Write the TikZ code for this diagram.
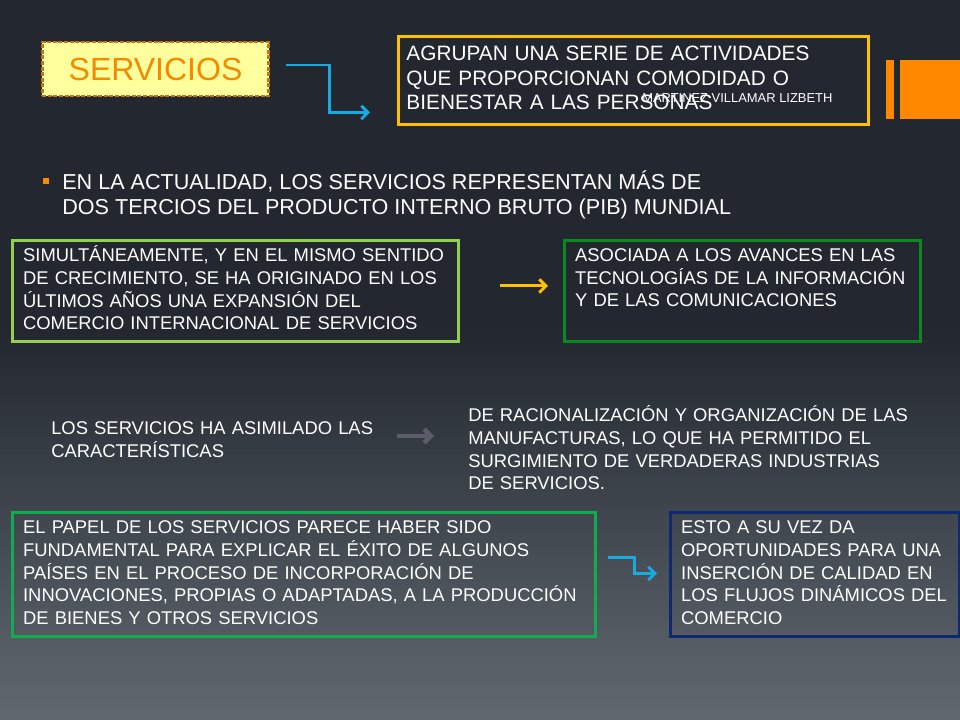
\documentclass[tikz,border=0pt]{standalone}
\usepackage{fontspec}
\setmainfont{Liberation Sans}
\usetikzlibrary{arrows.meta,calc}

\definecolor{bgtop}{HTML}{232830}
\definecolor{bgbot}{HTML}{61686F}
\definecolor{servfill}{HTML}{FFFF9E}
\definecolor{servdash}{HTML}{C27612}
\definecolor{servtext}{HTML}{F38A00}
\definecolor{gold}{HTML}{FFC000}
\definecolor{cyanblue}{HTML}{1AAAE2}
\definecolor{lightgreen}{HTML}{92D050}
\definecolor{darkgreen}{HTML}{0A8A1E}
\definecolor{midgreen}{HTML}{12AC50}
\definecolor{navy}{HTML}{0E2A6E}
\definecolor{barorange}{HTML}{FF8800}
\definecolor{arrowgray}{HTML}{5D5C68}

\newcommand{\boxfont}{\fontsize{13.8}{17}\selectfont}
\newcommand{\lines}[1]{\begin{tabular}{@{}l@{}}#1\end{tabular}}

\begin{document}
\begin{tikzpicture}[
    x=0.75pt, y=-0.75pt,
    txtbox/.style={draw, line width=2.2pt, text=white, align=left, anchor=north west, inner xsep=8pt, inner ysep=0pt, font=\boxfont},
    plain/.style={text=white, align=left, anchor=west, inner sep=0pt, font=\boxfont},
    elbow/.style={draw=cyanblue, line width=2.2pt, -{Straight Barb[length=5pt,width=10pt]}},
    line/.style={draw, line width=2.2pt, -{Straight Barb[length=5pt,width=10pt]}}
]
\useasboundingbox (0,0) rectangle (960,720);

% Background
\fill[bgtop] (0,0) rectangle (960,720);
\shade[top color=bgtop, bottom color=bgbot] (0,330) rectangle (960,720);
\fill[barorange] (886,60) rectangle (894,119);
\fill[barorange] (900,60) rectangle (960,119);

% Title and definition
\node [draw=servdash, line width=2.2pt, dash pattern=on 3pt off 1.2pt, fill=servfill, text=servtext,
       minimum width=170pt, minimum height=40.5pt, font=\fontsize{24}{28}\selectfont] (serv) at (155.5,69) {SERVICIOS};
\node [txtbox, draw=gold, inner xsep=6pt, text width=340.5pt, minimum height=66pt, font=\fontsize{15.6}{18.4}\selectfont] (agr) at (397,35)
      {\lines{AGRUPAN UNA SERIE DE ACTIVIDADES\\QUE PROPORCIONAN COMODIDAD O\\BIENESTAR A LAS PERSONAS}};
\node [plain, font=\fontsize{9.7}{11}\selectfont] (autor) at (642,98) {MARTINEZ VILLAMAR LIZBETH};

% Bullet
\node [fill=barorange, minimum size=4.5pt, inner sep=0pt] (bul) at (45.5,181) {};
\node [plain, font=\fontsize{16.2}{18.75}\selectfont] (pib) at (62,194.5)
      {EN LA ACTUALIDAD, LOS SERVICIOS REPRESENTAN MÁS DE\\DOS TERCIOS DEL PRODUCTO INTERNO BRUTO (PIB) MUNDIAL};

% Boxes
\node [txtbox, draw=lightgreen, text width=318.5pt, minimum height=75.75pt] (simult) at (11,239)
      {\lines{SIMULTÁNEAMENTE, Y EN EL MISMO SENTIDO\\DE CRECIMIENTO, SE HA ORIGINADO EN LOS\\ÚLTIMOS AÑOS UNA EXPANSIÓN DEL\\COMERCIO INTERNACIONAL DE SERVICIOS}};
\node [txtbox, draw=darkgreen, text width=251pt, minimum height=75.75pt] (asoc) at (563,239)
      {\lines{ASOCIADA A LOS AVANCES EN LAS\\TECNOLOGÍAS DE LA INFORMACIÓN\\Y DE LAS COMUNICACIONES\\\mbox{}}};
\node [plain, text width=260pt] (asim) at (51,439.5)
      {LOS SERVICIOS HA ASIMILADO LAS\\CARACTERÍSTICAS};
\node [plain, text width=350pt] (racio) at (468,448)
      {DE RACIONALIZACIÓN Y ORGANIZACIÓN DE LAS\\MANUFACTURAS, LO QUE HA PERMITIDO EL\\SURGIMIENTO DE VERDADERAS INDUSTRIAS\\DE SERVICIOS.};
\node [txtbox, draw=midgreen, text width=421.25pt, minimum height=93pt] (papel) at (11,511)
      {\lines{EL PAPEL DE LOS SERVICIOS PARECE HABER SIDO\\FUNDAMENTAL PARA EXPLICAR EL ÉXITO DE ALGUNOS\\PAÍSES EN EL PROCESO DE INCORPORACIÓN DE\\INNOVACIONES, PROPIAS O ADAPTADAS, A LA PRODUCCIÓN\\DE BIENES Y OTROS SERVICIOS}};
\node [txtbox, draw=navy, text width=200.75pt, minimum height=93pt] (esto) at (669,511)
      {\lines{ESTO A SU VEZ DA\\OPORTUNIDADES PARA UNA\\INSERCIÓN DE CALIDAD EN\\LOS FLUJOS DINÁMICOS DEL\\COMERCIO}};

% Connections
\path [elbow] ($(serv.east)+(16,-4)$) -- ++(43,0) |- ($(agr.west)+(-27,32)$);
\path [line, draw=gold] ($(simult.east)+(40,-5)$) -- ($(asoc.west)+(-15,-5)$);
\path [line, draw=arrowgray, line width=3.4pt] ($(asim.west)+(346,-3.5)$) -- ($(racio.west)+(-34,-12)$);
\path [elbow] ($(papel.east)+(11,-17)$) -- ++(27,0) |- ($(esto.west)+(-12,-1)$);

\end{tikzpicture}
\end{document}
